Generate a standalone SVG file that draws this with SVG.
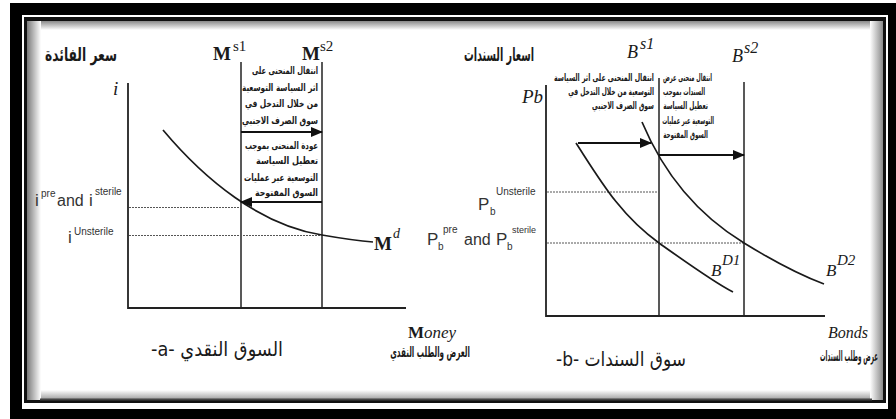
<svg xmlns="http://www.w3.org/2000/svg" width="896" height="419" viewBox="0 0 896 419">
<style>
.ar{font-family:"DejaVu Sans Condensed","DejaVu Sans",sans-serif;font-weight:bold;fill:#1a1a1a}
.cap{font-family:"DejaVu Sans","DejaVu Sans Condensed",sans-serif;font-weight:normal;fill:#1a1a1a}
.sans{font-family:"Liberation Sans",Arial,sans-serif;fill:#333}
.serif{font-family:"Liberation Serif","Times New Roman",serif;fill:#1a1a1a}
.it{font-style:italic}
.bd{font-weight:bold}
.ax{stroke:#222;stroke-width:1.8;fill:none}
.vl{stroke:#222;stroke-width:1.5;fill:none}
.cv{stroke:#1a1a1a;stroke-width:1.7;fill:none}
.dot{stroke:#555;stroke-width:1;stroke-dasharray:2 1;fill:none}
.arw{stroke:#111;stroke-width:2;fill:none;marker-end:url(#ah)}
</style>
<defs>
<marker id="ah" markerUnits="userSpaceOnUse" markerWidth="12" markerHeight="10" refX="11" refY="5" orient="auto">
<path d="M0,0 L12,5 L0,10 z" fill="#111"/>
</marker>
<linearGradient id="gL" x1="0" y1="0" x2="1" y2="0"><stop offset="0" stop-color="#7a7a7a"/><stop offset="1" stop-color="#fff"/></linearGradient>
<linearGradient id="gR" x1="1" y1="0" x2="0" y2="0"><stop offset="0" stop-color="#8a8a8a"/><stop offset="1" stop-color="#fff"/></linearGradient>
<linearGradient id="gT" x1="0" y1="0" x2="0" y2="1"><stop offset="0" stop-color="#8a8a8a"/><stop offset="1" stop-color="#fff"/></linearGradient>
<linearGradient id="gB" x1="0" y1="1" x2="0" y2="0"><stop offset="0" stop-color="#9a9a9a"/><stop offset="1" stop-color="#fff"/></linearGradient>
</defs>

<g id="frame">
<rect x="0" y="0" width="896" height="419" fill="#fff"/>
<rect x="10" y="3" width="886" height="416" fill="#000"/>
<rect x="22" y="15" width="866" height="394" fill="#fff"/>
<rect x="24" y="17" width="862" height="386" fill="#111"/>
<rect x="27" y="21" width="856" height="379" fill="#fff"/>
<rect x="27" y="21" width="856" height="9" fill="url(#gT)"/>
<rect x="27" y="390" width="856" height="10" fill="url(#gB)"/>
<rect x="27" y="21" width="14" height="379" fill="url(#gL)"/>
<rect x="870" y="21" width="13" height="379" fill="url(#gR)"/>
<line x1="40" y1="399.5" x2="872" y2="399.5" stroke="#444" stroke-width="2"/>
</g>

<g id="connectors">
<polyline class="ax" points="128,83 128,308 406,308"/>
<line class="vl" x1="241" y1="62" x2="241" y2="308"/>
<line class="vl" x1="322" y1="62" x2="322" y2="308"/>
<line class="dot" x1="129" y1="207.5" x2="241" y2="207.5"/>
<line class="dot" x1="129" y1="235.5" x2="322" y2="235.5"/>
<path class="cv" d="M163,130 C205,180 260,225 322,235 C345,239 360,241 373,242"/>
<line class="arw" x1="241" y1="132" x2="322" y2="132"/>
<line class="arw" x1="322" y1="202" x2="241" y2="202"/>
<polyline class="ax" points="546,85 546,316 825,316"/>
<line class="vl" x1="659" y1="78" x2="659" y2="316"/>
<line class="vl" x1="744" y1="82" x2="744" y2="316"/>
<line class="dot" x1="547" y1="192" x2="659" y2="192"/>
<line class="dot" x1="547" y1="243" x2="744" y2="243"/>
<path class="cv" d="M576,143 C600,180 620,215 659,243 C690,265 715,283 733,292"/>
<path class="cv" d="M642,122 C660,165 690,210 744,243 C775,262 800,275 824,284"/>
<line class="arw" x1="578" y1="143" x2="651" y2="143"/>
<line class="arw" x1="659" y1="155" x2="744" y2="155"/>
</g>

<g id="left-title"><text class="cap" x="117" y="61" font-size="18" text-anchor="end" textLength="72" lengthAdjust="spacingAndGlyphs" style="font-weight:bold">سعر الفائدة</text></g>
<g id="left-i"><text class="serif it" x="113" y="95" font-size="19">i</text></g>
<g id="ms1"><text class="serif bd" x="213" y="60" font-size="19">M</text><text class="serif" x="233" y="51" font-size="15">s1</text></g>
<g id="ms2"><text class="serif bd" x="302" y="60" font-size="19">M</text><text class="serif" x="320" y="51" font-size="15">s2</text></g>
<g id="md"><text class="serif bd" x="374" y="250" font-size="19">M</text><text class="serif it" x="393" y="238" font-size="14">d</text></g>

<g id="i-pre">
<text class="sans" x="35" y="206" font-size="17">i</text>
<text class="sans" x="41" y="197" font-size="10">pre</text>
<text class="sans" x="57" y="206" font-size="16">and</text>
<text class="sans" x="89" y="206" font-size="17">i</text>
<text class="sans" x="95" y="195" font-size="10">sterile</text>
</g>
<g id="i-unsterile">
<text class="sans" x="68" y="243" font-size="17">i</text>
<text class="sans" x="74" y="235" font-size="10">Unsterile</text>
</g>

<g id="note1">
<text class="ar" x="318" y="74" font-size="10" text-anchor="end" textLength="66" lengthAdjust="spacingAndGlyphs">انتقال المنحنى على</text>
<text class="ar" x="318" y="91" font-size="10" text-anchor="end" textLength="76" lengthAdjust="spacingAndGlyphs">اثر السياسة التوسعية</text>
<text class="ar" x="318" y="107" font-size="10" text-anchor="end" textLength="73" lengthAdjust="spacingAndGlyphs">من خلال التدخل في</text>
<text class="ar" x="318" y="124" font-size="10" text-anchor="end" textLength="76" lengthAdjust="spacingAndGlyphs">سوق الصرف الاجنبي</text>
</g>
<g id="note2">
<text class="ar" x="318" y="149" font-size="10" text-anchor="end" textLength="73" lengthAdjust="spacingAndGlyphs">عودة المنحنى بموجب</text>
<text class="ar" x="318" y="164" font-size="10" text-anchor="end" textLength="62" lengthAdjust="spacingAndGlyphs">تعطيل السياسة</text>
<text class="ar" x="318" y="181" font-size="10" text-anchor="end" textLength="74" lengthAdjust="spacingAndGlyphs">التوسعية عبر عمليات</text>
<text class="ar" x="318" y="196" font-size="10" text-anchor="end" textLength="63" lengthAdjust="spacingAndGlyphs">السوق المفتوحة</text>
</g>

<g id="money"><text class="serif" x="408" y="338" font-size="17"><tspan class="bd">M</tspan><tspan class="it">oney</tspan></text></g>
<g id="money-ar"><text class="ar" transform="translate(470,357) scale(0.55,1)" x="0" y="0" font-size="14" text-anchor="end" textLength="145" lengthAdjust="spacingAndGlyphs">العرض والطلب النقدي</text></g>
<g id="caption-a"><text class="cap" x="217" y="356" font-size="20" text-anchor="middle" direction="rtl" textLength="132" lengthAdjust="spacingAndGlyphs">السوق النقدي -a-</text></g>

<g id="right-title"><text class="cap" x="534" y="61" font-size="18" text-anchor="end" textLength="70" lengthAdjust="spacingAndGlyphs" style="font-weight:bold">اسعار السندات</text></g>
<g id="right-pb"><text class="serif it" x="522" y="103" font-size="19">Pb</text></g>
<g id="bs1"><text class="serif it" x="627" y="58" font-size="18">B</text><text class="serif it" x="640" y="49" font-size="16">s1</text></g>
<g id="bs2"><text class="serif it" x="732" y="62" font-size="18">B</text><text class="serif it" x="744" y="53" font-size="16">s2</text></g>
<g id="bd1"><text class="serif it" x="711" y="276" font-size="17">B</text><text class="serif it" x="722" y="265" font-size="15">D1</text></g>
<g id="bd2"><text class="serif it" x="826" y="276" font-size="17">B</text><text class="serif it" x="837" y="265" font-size="15">D2</text></g>

<g id="pb-unsterile">
<text class="sans" x="478" y="210" font-size="17">P</text>
<text class="sans" x="490" y="215" font-size="10">b</text>
<text class="sans" x="496" y="195" font-size="10">Unsterile</text>
</g>
<g id="pb-pre">
<text class="sans" x="427" y="245" font-size="17">P</text>
<text class="sans" x="438" y="250" font-size="10">b</text>
<text class="sans" x="443" y="233" font-size="10">pre</text>
<text class="sans" x="464" y="245" font-size="16">and</text>
<text class="sans" x="496" y="245" font-size="17">P</text>
<text class="sans" x="507" y="250" font-size="10">b</text>
<text class="sans" x="512" y="233" font-size="9">sterile</text>
</g>

<g id="note3">
<text class="ar" transform="translate(654,81) scale(0.68,1)" x="0" y="0" font-size="10" text-anchor="end" textLength="147" lengthAdjust="spacingAndGlyphs">انتقال المنحنى على اثر السياسة</text>
<text class="ar" transform="translate(654,95) scale(0.68,1)" x="0" y="0" font-size="10" text-anchor="end" textLength="126" lengthAdjust="spacingAndGlyphs">التوسعية من خلال التدخل في</text>
<text class="ar" transform="translate(654,109) scale(0.68,1)" x="0" y="0" font-size="10" text-anchor="end" textLength="91" lengthAdjust="spacingAndGlyphs">سوق الصرف الاجنبي</text>
</g>
<g id="note4">
<text class="ar" transform="translate(712,81) scale(0.7,1)" x="0" y="0" font-size="10" text-anchor="end" textLength="70" lengthAdjust="spacingAndGlyphs">انتقال منحنى عرض</text>
<text class="ar" transform="translate(705,95) scale(0.7,1)" x="0" y="0" font-size="10" text-anchor="end" textLength="60" lengthAdjust="spacingAndGlyphs">السندات بموجب</text>
<text class="ar" transform="translate(708,109) scale(0.7,1)" x="0" y="0" font-size="10" text-anchor="end" textLength="64" lengthAdjust="spacingAndGlyphs">تعطيل السياسة</text>
<text class="ar" transform="translate(714,124) scale(0.7,1)" x="0" y="0" font-size="10" text-anchor="end" textLength="74" lengthAdjust="spacingAndGlyphs">التوسعية عبر عمليات</text>
<text class="ar" transform="translate(708,138) scale(0.7,1)" x="0" y="0" font-size="10" text-anchor="end" textLength="64" lengthAdjust="spacingAndGlyphs">السوق المفتوحة</text>
</g>

<g id="bonds"><text class="serif it" x="828" y="338" font-size="16" fill="#333">Bonds</text></g>
<g id="bonds-ar"><text class="ar" transform="translate(878,361) scale(0.45,1)" x="0" y="0" font-size="14" text-anchor="end" textLength="129" lengthAdjust="spacingAndGlyphs">عرض وطلب السندات</text></g>
<g id="caption-b"><text class="cap" x="621" y="366" font-size="20" text-anchor="middle" direction="rtl" textLength="130" lengthAdjust="spacingAndGlyphs">سوق السندات -b-</text></g>
</svg>
